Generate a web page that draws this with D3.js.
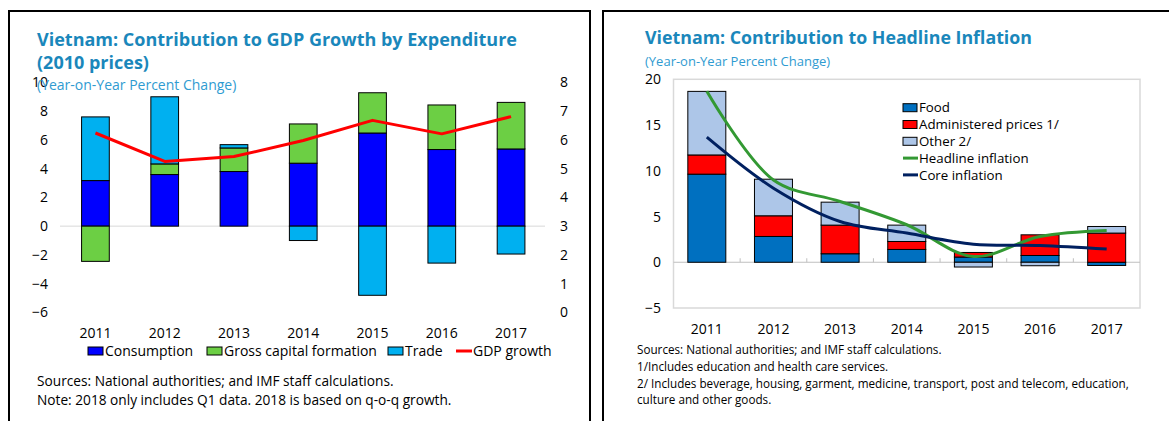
<!DOCTYPE html>
<html>
<head>
<meta charset="utf-8">
<script src="https://cdn.jsdelivr.net/npm/d3@7"></script>
<style>
  body { margin: 0; background: #fff; }
  svg { display: block; font-family: "Open Sans", "Noto Sans", sans-serif; }
</style>
</head>
<body>
<div id="chart"></div>
<script>
// chart data
const years = ["2011", "2012", "2013", "2014", "2015", "2016", "2017"];

// left: contribution to GDP growth (pp)
const consumption = [3.17, 3.59, 3.80, 4.38, 6.48, 5.33, 5.37];
const grossCapital = [-2.45, 0.74, 1.64, 2.73, 2.80, 3.10, 3.24];
const trade = [4.43, 4.67, 0.23, -1.00, -4.81, -2.57, -1.94];
const gdpGrowth = [6.24, 5.25, 5.42, 5.98, 6.68, 6.21, 6.81];

// right: contribution to headline inflation (pp)
const food = [9.63, 2.82, 0.93, 1.40, 0.57, 0.74, -0.35];
const administered = [2.10, 2.26, 3.13, 0.87, 0.50, 2.26, 3.19];
const other = [6.95, 4.00, 2.51, 1.79, -0.52, -0.38, 0.72];
const headline = [18.7, 9.0, 6.64, 4.1, 0.63, 2.82, 3.47];
const core = [13.67, 8.1, 4.46, 3.2, 1.98, 1.84, 1.44];

const leftTicks = [-6, -4, -2, 0, 2, 4, 6, 8, 10];
const rightTicks = [0, 1, 2, 3, 4, 5, 6, 7, 8];
const inflTicks = [-5, 0, 5, 10, 15, 20];

const titleColor = "#1a87bb";
const subColor = "#2f9bd1";

const width = 1169, height = 421;
const svg = d3.select("#chart").append("svg")
    .attr("width", width)
    .attr("height", height);

// panel frames
svg.append("path")
    .attr("d", "M9,430 V11 H590 V430")
    .attr("fill", "none").attr("stroke", "#000").attr("stroke-width", 2);
svg.append("path")
    .attr("d", "M603,430 V11 H1175")
    .attr("fill", "none").attr("stroke", "#000").attr("stroke-width", 2);

// ---------------- left chart ----------------
const gL = svg.append("g");

gL.append("text").attr("x", 37).attr("y", 46)
    .attr("font-size", 18).attr("font-weight", 700).attr("fill", titleColor)
    .text("Vietnam: Contribution to GDP Growth by Expenditure");
gL.append("text").attr("x", 37).attr("y", 69)
    .attr("font-size", 18).attr("font-weight", 700).attr("fill", titleColor)
    .text("(2010 prices)");

const xL = d3.scaleBand().domain(years).range([60.8, 545.7])
    .paddingInner(0.6).paddingOuter(0.3);
const yL = d3.scaleLinear().domain([-6, 10]).range([312.4, 82.4]);
const yR = d3.scaleLinear().domain([0, 8]).range([312.4, 82.4]);

// zero line
gL.append("line")
    .attr("x1", 60).attr("x2", 545)
    .attr("y1", yL(0)).attr("y2", yL(0))
    .attr("stroke", "#d9d9d9").attr("stroke-width", 1);

const leftAxis = gL.append("g")
    .attr("transform", "translate(48,0)")
    .call(d3.axisLeft(yL).tickValues(leftTicks).tickSize(0).tickPadding(0));
leftAxis.select(".domain").remove();
leftAxis.selectAll("text").attr("font-size", 14).attr("fill", "#000")
    .attr("font-family", "Open Sans");

const rightAxis = gL.append("g")
    .attr("transform", "translate(560,0)")
    .call(d3.axisRight(yR).tickValues(rightTicks).tickSize(0).tickPadding(0));
rightAxis.select(".domain").remove();
rightAxis.selectAll("text").attr("font-size", 14).attr("fill", "#000")
    .attr("font-family", "Open Sans");

gL.append("text").attr("x", 37).attr("y", 90)
    .attr("font-size", 14).attr("fill", subColor)
    .text("(Year-on-Year Percent Change)");

const gdpRows = years.map((y, i) => ({
    year: y, consumption: consumption[i], gcf: grossCapital[i], trade: trade[i]
}));
const gdpKeys = ["consumption", "gcf", "trade"];
const gdpColors = { consumption: "#0000ff", gcf: "#6ccf44", trade: "#00b0f0" };
const gdpStack = d3.stack().keys(gdpKeys).offset(d3.stackOffsetDiverging)(gdpRows);

gL.append("g").selectAll("g")
    .data(gdpStack)
    .join("g")
    .attr("fill", d => gdpColors[d.key])
    .selectAll("rect")
    .data(d => d)
    .join("rect")
    .attr("x", d => xL(d.data.year))
    .attr("width", xL.bandwidth())
    .attr("y", d => yL(Math.max(d[0], d[1])))
    .attr("height", d => Math.abs(yL(d[0]) - yL(d[1])))
    .attr("stroke", "#000").attr("stroke-width", 1);

gL.append("path")
    .datum(gdpGrowth)
    .attr("fill", "none").attr("stroke", "#ff0000").attr("stroke-width", 3)
    .attr("stroke-linejoin", "round")
    .attr("d", d3.line()
        .x((d, i) => xL(years[i]) + xL.bandwidth() / 2)
        .y(d => yR(d)));

gL.append("g").selectAll("text")
    .data(years)
    .join("text")
    .attr("x", d => xL(d) + xL.bandwidth() / 2)
    .attr("y", 338)
    .attr("text-anchor", "middle").attr("font-size", 14)
    .text(d => d);

// legend
const legL = [
    { label: "Consumption", type: "box", color: gdpColors.consumption, x: 88 },
    { label: "Gross capital formation", type: "box", color: gdpColors.gcf, x: 207 },
    { label: "Trade", type: "box", color: gdpColors.trade, x: 388 },
    { label: "GDP growth", type: "line", color: "#ff0000", x: 456 }
];
const legLg = gL.append("g").selectAll("g").data(legL).join("g")
    .attr("transform", d => `translate(${d.x},351)`);
legLg.filter(d => d.type === "box").append("rect")
    .attr("x", 0).attr("y", -4).attr("width", 15).attr("height", 8)
    .attr("fill", d => d.color).attr("stroke", "#000").attr("stroke-width", 1);
legLg.filter(d => d.type === "line").append("line")
    .attr("x1", 0).attr("x2", 16).attr("y1", 0).attr("y2", 0)
    .attr("stroke", d => d.color).attr("stroke-width", 3);
legLg.append("text")
    .attr("x", 17).attr("y", 0).attr("dy", "0.35em")
    .attr("font-size", 14).text(d => d.label);

const notesL = [
    "Sources: National authorities; and IMF staff calculations.",
    "Note: 2018 only includes Q1 data. 2018 is based on q-o-q growth."
];
gL.append("g").selectAll("text").data(notesL).join("text")
    .attr("x", 37).attr("y", (d, i) => 386 + i * 19)
    .attr("font-size", 13.7).text(d => d);

// ---------------- right chart ----------------
const gR = svg.append("g");

gR.append("text").attr("x", 645).attr("y", 44)
    .attr("font-size", 17.8).attr("font-weight", 700).attr("fill", titleColor)
    .text("Vietnam: Contribution to Headline Inflation");
gR.append("text").attr("x", 645).attr("y", 65.5)
    .attr("font-size", 13).attr("fill", subColor)
    .text("(Year-on-Year Percent Change)");

const xI = d3.scaleBand().domain(years).range([673.5, 1140])
    .paddingInner(0.43).paddingOuter(0.215);
const yI = d3.scaleLinear().domain([-5, 20]).range([308, 79.3]);

// plot frame
gR.append("rect")
    .attr("x", 673.5).attr("y", 79.3)
    .attr("width", 1140 - 673.5).attr("height", 308 - 79.3)
    .attr("fill", "none").attr("stroke", "#d9d9d9").attr("stroke-width", 1.5);

const infAxis = gR.append("g")
    .attr("transform", "translate(661,0)")
    .call(d3.axisLeft(yI).tickValues(inflTicks).tickSize(0).tickPadding(0));
infAxis.select(".domain").remove();
infAxis.selectAll("text").attr("font-size", 14).attr("fill", "#000")
    .attr("font-family", "Open Sans");

// zero line with small ticks between categories
gR.append("line")
    .attr("x1", 673.5).attr("x2", 1140)
    .attr("y1", yI(0)).attr("y2", yI(0))
    .attr("stroke", "#bfbfbf").attr("stroke-width", 1.2);
gR.append("g").selectAll("line")
    .data(years.slice(1))
    .join("line")
    .attr("x1", d => xI(d) - xI.step() * xI.paddingInner() / 2)
    .attr("x2", d => xI(d) - xI.step() * xI.paddingInner() / 2)
    .attr("y1", yI(0) - 4).attr("y2", yI(0))
    .attr("stroke", "#bfbfbf").attr("stroke-width", 1);

const infRows = years.map((y, i) => ({
    year: y, food: food[i], admin: administered[i], other: other[i]
}));
const infKeys = ["food", "admin", "other"];
const infColors = { food: "#0070c0", admin: "#ff0000", other: "#adc6e8" };
const infStack = d3.stack().keys(infKeys).offset(d3.stackOffsetDiverging)(infRows);

gR.append("g").selectAll("g")
    .data(infStack)
    .join("g")
    .attr("fill", d => infColors[d.key])
    .selectAll("rect")
    .data(d => d)
    .join("rect")
    .attr("x", d => xI(d.data.year))
    .attr("width", xI.bandwidth())
    .attr("y", d => yI(Math.max(d[0], d[1])))
    .attr("height", d => Math.abs(yI(d[0]) - yI(d[1])))
    .attr("stroke", "#000").attr("stroke-width", 1);

const smooth = d3.line()
    .x((d, i) => xI(years[i]) + xI.bandwidth() / 2)
    .y(d => yI(d))
    .curve(d3.curveCatmullRom.alpha(0.5));

gR.append("path").datum(headline)
    .attr("fill", "none").attr("stroke", "#339933").attr("stroke-width", 3)
    .attr("d", smooth);
gR.append("path").datum(core)
    .attr("fill", "none").attr("stroke", "#002060").attr("stroke-width", 3)
    .attr("d", smooth);

gR.append("g").selectAll("text")
    .data(years)
    .join("text")
    .attr("x", d => xI(d) + xI.bandwidth() / 2)
    .attr("y", 334)
    .attr("text-anchor", "middle").attr("font-size", 14)
    .text(d => d);

const legR = [
    { label: "Food", type: "box", color: infColors.food },
    { label: "Administered prices 1/", type: "box", color: infColors.admin },
    { label: "Other 2/", type: "box", color: infColors.other },
    { label: "Headline inflation", type: "line", color: "#339933" },
    { label: "Core inflation", type: "line", color: "#002060" }
];
const legRg = gR.append("g").selectAll("g").data(legR).join("g")
    .attr("transform", (d, i) => `translate(903,${107.7 + i * 16.8})`);
legRg.filter(d => d.type === "box").append("rect")
    .attr("x", 0).attr("y", -4).attr("width", 14).attr("height", 8)
    .attr("fill", d => d.color).attr("stroke", "#000").attr("stroke-width", 1);
legRg.filter(d => d.type === "line").append("line")
    .attr("x1", 0).attr("x2", 15).attr("y1", 0).attr("y2", 0)
    .attr("stroke", d => d.color).attr("stroke-width", 3);
legRg.append("text")
    .attr("x", 16).attr("y", 0).attr("dy", "0.35em")
    .attr("font-size", 13.3).text(d => d.label);

const notesR = [
    "Sources: National authorities; and IMF staff calculations.",
    "1/Includes education and health care services.",
    "2/ Includes beverage, housing, garment, medicine, transport, post and telecom, education,",
    "culture and other goods."
];
gR.append("g").selectAll("text").data(notesR).join("text")
    .attr("x", 637).attr("y", (d, i) => [354, 371, 388, 403.5][i])
    .attr("font-size", 11.7).text(d => d);
</script>
</body>
</html>
